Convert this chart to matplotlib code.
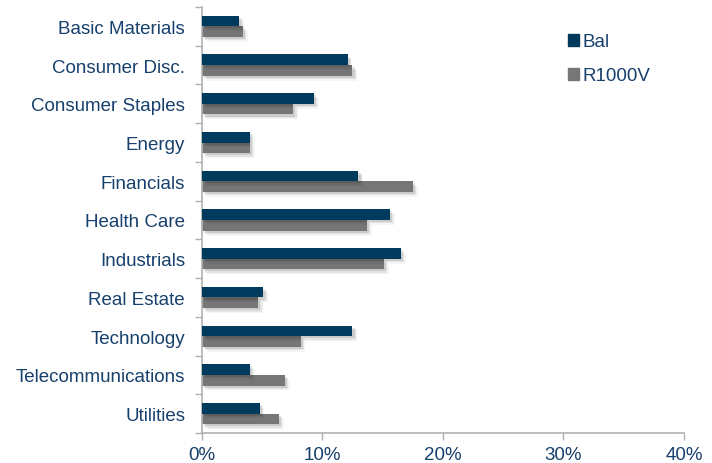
import matplotlib.pyplot as plt
import matplotlib.patheffects as pe
from matplotlib.patches import Patch
from matplotlib.ticker import FuncFormatter, FixedLocator
import numpy as np

plt.rcParams['font.family'] = ['Liberation Sans', 'DejaVu Sans']

sectors = ["Basic Materials", "Consumer Disc.", "Consumer Staples", "Energy",
           "Financials", "Health Care", "Industrials", "Real Estate",
           "Technology", "Telecommunications", "Utilities"]
bal = [3.1, 12.1, 9.3, 4.0, 13.0, 15.6, 16.5, 5.1, 12.5, 4.0, 4.8]
r1000v = [3.4, 12.5, 7.6, 4.0, 17.5, 13.7, 15.1, 4.7, 8.2, 6.9, 6.4]

navy = "#003A5D"
grey = "#767676"
label_col = "#17406D"

fig = plt.figure(figsize=(7.12, 4.64), dpi=100)
ax = fig.add_axes([201.7 / 712, 1 - 434 / 464, (684 - 201.7) / 712, 426 / 464])

y = np.arange(len(sectors))
h = 0.275
# soft drop shadow, built from a few faint offset copies
shadow = [pe.SimplePatchShadow(offset=(o, -o), shadow_rgbFace="black", alpha=a)
          for o, a in [(3.5, 0.04), (2.5, 0.07), (1.5, 0.1)]] + [pe.Normal()]
ax.barh(y - h / 2, bal, height=h, color=navy, path_effects=shadow, zorder=3)
ax.barh(y + h / 2, r1000v, height=h, color=grey, path_effects=shadow, zorder=2)

ax.set_ylim(len(sectors) - 0.5, -0.5)
ax.set_xlim(0, 40)
ax.set_yticks(y)
ax.set_yticklabels(sectors, fontsize=13.5, color=label_col)
ax.tick_params(axis='y', length=0, pad=12)
ax.yaxis.set_minor_locator(FixedLocator(np.arange(-0.5, len(sectors), 1)))
ax.tick_params(axis='y', which='minor', length=5, color="#B0B0B0", width=1)

ax.set_xticks([0, 10, 20, 30, 40])
ax.xaxis.set_major_formatter(FuncFormatter(lambda v, p: f"{v:.0f}%"))
ax.tick_params(axis='x', length=5, color="#B0B0B0", width=1, labelsize=13.5,
               labelcolor=label_col, pad=4.5)

for s in ["top", "right"]:
    ax.spines[s].set_visible(False)
for s in ["left", "bottom"]:
    ax.spines[s].set_color("#B0B0B0")
    ax.spines[s].set_linewidth(1.2)

handles = [Patch(color=navy), Patch(color=grey)]
leg = ax.legend(handles, ["Bal", "R1000V"], loc="upper left",
                bbox_to_anchor=(0.74, 0.96), frameon=False, borderpad=0,
                fontsize=13.5, handlelength=0.6, handleheight=0.6,
                handletextpad=0.2, labelspacing=0.9)
for t in leg.get_texts():
    t.set_color(label_col)

fig.savefig("out.png", dpi=100)
